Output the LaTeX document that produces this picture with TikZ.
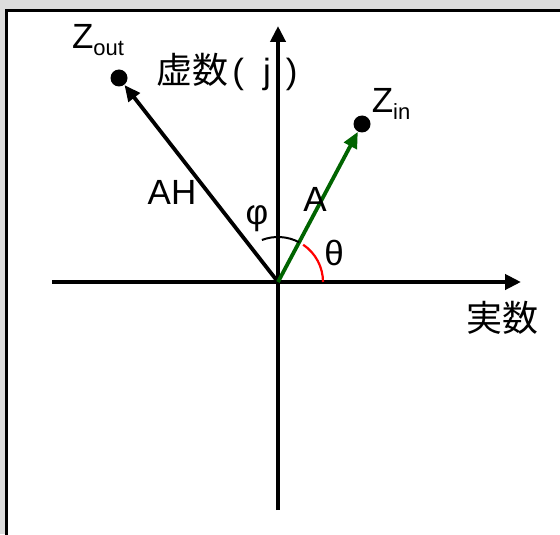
\documentclass[tikz,border=0pt]{standalone}
\usepackage{fontspec}
\setmainfont{Liberation Sans}
\newfontfamily\cjk{Noto Sans CJK JP}
\usepackage{tikz}
\usetikzlibrary{arrows.meta,positioning,calc}

\definecolor{framegray}{RGB}{221,221,221}
\definecolor{vecgreen}{RGB}{0,100,0}

\tikzset{
    axis/.style={line width=2pt,-{Triangle[length=8pt,width=7.5pt]}},
    vec/.style={line width=1.9pt,-{Triangle[length=8pt,width=7pt]}},
    dot/.style={circle,fill=black,inner sep=0pt,minimum size=8.5pt},
    lbl/.style={font=\fontsize{17.5}{20}\selectfont,inner sep=0pt},
}

\newcommand{\subtxt}[1]{\raisebox{-0.22em}{\fontsize{11}{12}\selectfont #1}}
\newcommand{\cjktxt}[1]{{\cjk\fontsize{18}{20}\selectfont #1}}

\begin{document}
\begin{tikzpicture}[x=0.5pt,y=-0.5pt]
    \useasboundingbox (0,0) rectangle (560,534);
    % frame
    \fill[framegray] (0,0) rectangle (560,534);
    \fill[white] (6.5,10.5) rectangle (560,534);
    \draw[line width=1.5pt] (6.5,540) -- (6.5,10.5) -- (565,10.5);

    % axes
    \coordinate (o) at (278,282);
    \coordinate (xs) at (52,282);
    \coordinate (xe) at (521,282);
    \coordinate (ys) at (278,510);
    \coordinate (ye) at (278,26);
    \draw[axis] (xs) -- (xe);
    \draw[axis] (ys) -- (ye);

    % points and vectors
    \node[dot] (zout) at (119,78) {};
    \node[dot] (zin) at (362,124) {};
    \draw[vec] (o) -- (zout);
    \draw[vec,vecgreen] (o) -- (zin);

    % angles (y axis points down, so angles are negated)
    \draw[line width=1pt] ($(o)+(-111:45)$) arc[start angle=-111,end angle=-62,radius=45];
    \draw[line width=1.1pt,red] ($(o)+(-56:45)$) arc[start angle=-56,end angle=0,radius=45];

    % labels
    \node[lbl] (zoutlbl) at (98,40) {Z\subtxt{out}};
    \node[lbl] (zinlbl) at (391,104) {Z\subtxt{in}};
    \node[lbl,anchor=west] (imag) at (156,72) {\cjktxt{虚数}\hspace{2pt}(\hspace{9.5pt}j\hspace{7.5pt})};
    \node[lbl] (real) at (502,318) {\cjktxt{実数}};
    \node[lbl] (ahlbl) at (172,192) {AH};
    \node[lbl] (albl) at (315,199) {A};
    \node[lbl] (philbl) at (257,219) {φ};
    \node[lbl] (thlbl) at (334,253) {θ};
\end{tikzpicture}
\end{document}
